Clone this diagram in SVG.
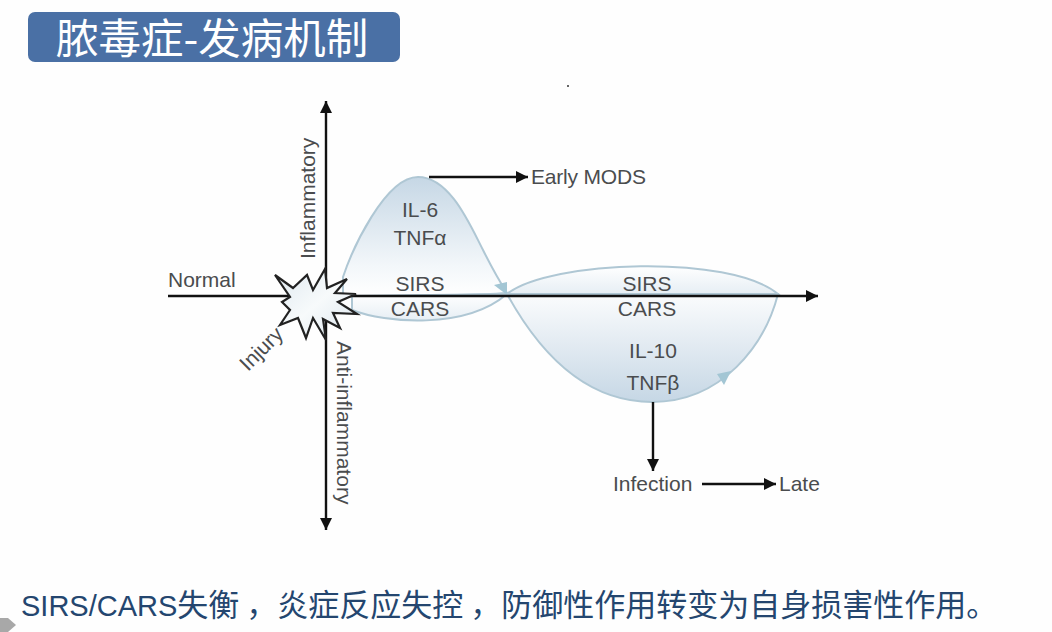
<svg xmlns="http://www.w3.org/2000/svg" width="1052" height="632" viewBox="0 0 1052 632">
<style>
.l{font-family:"Liberation Sans",Arial,sans-serif;font-size:21px;fill:#4a4c4e}
.m{text-anchor:middle}
.cn{font-family:"Noto Sans CJK SC","Liberation Sans",sans-serif}
.ax{stroke:#111;stroke-width:2.4;fill:none}
.cv{stroke:#afc7d4;stroke-width:2}
</style>
<defs>
<marker id="ah" markerUnits="userSpaceOnUse" markerWidth="13" markerHeight="12" refX="12" refY="6" orient="auto-start-reverse"><path d="M0 0L12 6L0 12z" fill="#111"/></marker>
<linearGradient id="gu" x1="0" y1="0" x2="0" y2="1"><stop offset="0" stop-color="#c6d7e5"/><stop offset="0.75" stop-color="#f3f7fa"/><stop offset="1" stop-color="#ffffff"/></linearGradient>
<linearGradient id="gd" x1="0" y1="0" x2="0" y2="1"><stop offset="0" stop-color="#fbfcfd"/><stop offset="1" stop-color="#c6d7e5"/></linearGradient>
<linearGradient id="gt" x1="0" y1="0" x2="0" y2="1"><stop offset="0" stop-color="#ffffff"/><stop offset="1" stop-color="#e6eef4"/></linearGradient>
<linearGradient id="gs" x1="0" y1="0" x2="1" y2="1"><stop offset="0" stop-color="#dfe9f0"/><stop offset="0.5" stop-color="#f7fafb"/><stop offset="1" stop-color="#dbe6ee"/></linearGradient>
</defs>
<rect width="1052" height="632" fill="#fefefe"/>
<g id="title">
<rect x="28" y="12" width="372" height="50" rx="7" fill="#4a70a5"/>
<text class="cn" x="56" y="54" font-size="42.5" fill="#fff">脓毒症-发病机制</text>
</g>
<g id="curves">
<path class="cv" fill="url(#gu)" d="M343 277C352 250 385 177 418 177C450 177 470 225 483 250C492 268 500 282 507 293C470 296 400 296 343 296Z"/>
<path class="cv" fill="url(#gt)" d="M352 310C385 323 465 330 507 294L352 296Z"/>
<path class="cv" fill="url(#gt)" d="M507 294C550 260 730 254 778 294Z"/>
<path class="cv" fill="url(#gd)" d="M507 294C535 345 580 402 652 402C722 402 765 345 778 294Z"/>
<path id="head-a" d="M494 285L507 282L507 295Z" fill="#a3c6d4"/>
<path id="head-b" d="M717 374L731 371L724 385Z" fill="#a3c6d4"/>
</g>
<g id="connectors">
<line class="ax" x1="326" y1="530" x2="326" y2="101" marker-end="url(#ah)" marker-start="url(#ah)"/>
<line class="ax" x1="168" y1="296" x2="818" y2="296" marker-end="url(#ah)"/>
<line class="ax" x1="429" y1="177" x2="528" y2="177" marker-end="url(#ah)"/>
<line class="ax" x1="653" y1="402" x2="653" y2="471" marker-end="url(#ah)"/>
<line class="ax" x1="702" y1="484" x2="776" y2="484" marker-end="url(#ah)"/>
</g>
<g id="star">
<path d="M275 275L293 288L307 275L313 290L325 269L327 288L347 279L335 293L356 294L338 302L357 314L333 313L340 328L323 319L326 340L313 318L306 338L298 318L280 325L290 310L282 302L290 297Z" fill="url(#gs)" stroke="#222" stroke-width="2.2" stroke-linejoin="miter"/>
</g>
<g id="labels">
<text class="l" x="168" y="287">Normal</text>
<text class="l" x="531" y="184" textLength="115">Early MODS</text>
<text class="l m" x="420" y="217">IL-6</text>
<text class="l m" x="420" y="245">TNFα</text>
<text class="l m" x="420" y="291">SIRS</text>
<text class="l m" x="420" y="316">CARS</text>
<text class="l m" x="647" y="291">SIRS</text>
<text class="l m" x="647" y="316">CARS</text>
<text class="l m" x="653" y="358">IL-10</text>
<text class="l m" x="653" y="390">TNFβ</text>
<text class="l" x="613" y="491">Infection</text>
<text class="l" x="779" y="491">Late</text>
<text class="l" transform="translate(315 259) rotate(-90)">Inflammatory</text>
<text class="l" transform="translate(337 341) rotate(90)">Anti-inflammatory</text>
<text class="l" transform="translate(248 372) rotate(-45)">Injury</text>
</g>
<g id="footer">
<text class="cn" x="21" y="616" font-size="31" fill="#24466f"><tspan font-family="Liberation Sans" font-size="29">SIRS/CARS</tspan>失衡<tspan dx="7">，</tspan>炎症反应失控<tspan dx="7">，</tspan>防御性作用转变为自身损害性作用。</text>
</g>
<path d="M0 618H8L16 625L8 632H0Z" fill="#a8a8a8"/>
<circle cx="568" cy="86" r="1" fill="#333"/>
</svg>
